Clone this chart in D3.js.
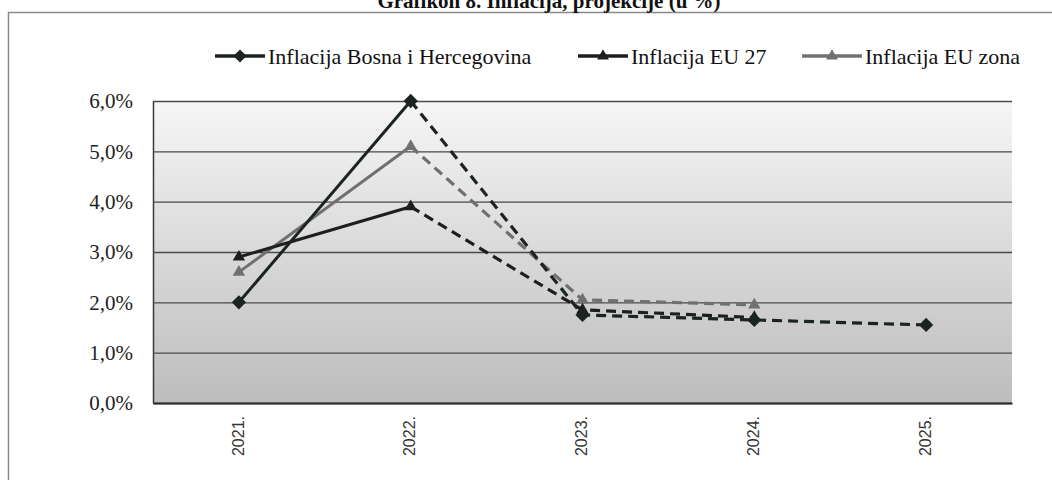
<!DOCTYPE html>
<html>
<head>
<meta charset="utf-8">
<script src="https://cdn.jsdelivr.net/npm/d3@7"></script>
<style>
  body { margin: 0; background: #fff; }
  svg { display: block; }
</style>
</head>
<body>
<svg id="chart" width="1052" height="480"></svg>
<script>
  const titleText = 'Grafikon 8. Inflacija, projekcije (u %)';

  const years = ['2021.', '2022.', '2023.', '2024.', '2025.'];
  const bihValues = [2.0, 6.0, 1.75, 1.65, 1.55];
  const eu27Values = [2.9, 3.9, 1.85, 1.7, null];
  const euZoneValues = [2.6, 5.1, 2.05, 1.95, null];
  const yTicks = [0, 1, 2, 3, 4, 5, 6];

  const series = [
    { name: 'Inflacija Bosna i Hercegovina', values: bihValues, color: '#1c2421', marker: 'diamond' },
    { name: 'Inflacija EU 27', values: eu27Values, color: '#1e1e1e', marker: 'triangle' },
    { name: 'Inflacija EU zona', values: euZoneValues, color: '#707070', marker: 'triangle' }
  ];

  const svg = d3.select('#chart');

  const margin = { top: 101, left: 153 };
  const innerWidth = 1012 - margin.left;
  const innerHeight = 403 - margin.top;

  // outer frame (top and left edges visible)
  svg.append('path')
      .attr('d', 'M8.5,480 V12.5 H1052')
      .attr('fill', 'none')
      .attr('stroke', '#8a8a8a')
      .attr('stroke-width', 1.5);

  svg.append('text')
      .attr('x', 549)
      .attr('y', 8)
      .attr('text-anchor', 'middle')
      .style('font-family', 'Liberation Serif, serif')
      .style('font-weight', 'bold')
      .style('font-size', '21px')
      .attr('fill', '#111')
      .text(titleText);

  const defs = svg.append('defs');
  const grad = defs.append('linearGradient')
      .attr('id', 'bg')
      .attr('x1', 0).attr('y1', 0).attr('x2', 0).attr('y2', 1);
  grad.append('stop').attr('offset', '0%').attr('stop-color', '#f6f6f6');
  grad.append('stop').attr('offset', '45%').attr('stop-color', '#dcdcdc');
  grad.append('stop').attr('offset', '100%').attr('stop-color', '#bdbdbd');

  const xScale = d3.scaleBand()
    .domain(years)
    .range([0, innerWidth])
    .padding(0);
  const xPos = d => xScale(d) + xScale.bandwidth() / 2;

  const yScale = d3.scaleLinear()
    .domain([0, 6])
    .range([innerHeight, 0]);

  const g = svg.append('g')
      .attr('transform', `translate(${margin.left},${margin.top})`);

  g.append('rect')
      .attr('width', innerWidth)
      .attr('height', innerHeight)
      .attr('fill', 'url(#bg)');

  const yAxis = d3.axisLeft(yScale)
    .tickValues(yTicks)
    .tickFormat(d => d3.format('.1f')(d).replace('.', ',') + '%')
    .tickSize(-innerWidth)
    .tickPadding(20);

  const yAxisG = g.append('g').call(yAxis);
  yAxisG.select('.domain')
      .attr('stroke', '#3a3a3a')
      .attr('stroke-width', 1.5)
      .attr('d', `M0.5,0V${innerHeight}`);
  yAxisG.selectAll('.tick line')
      .attr('stroke', '#4a4a4a')
      .attr('stroke-width', 1.3);
  yAxisG.selectAll('.tick text')
      .style('font-family', 'Liberation Serif, serif')
      .style('font-size', '21px')
      .attr('fill', '#222');

  const xAxis = d3.axisBottom(xScale).tickSize(0);
  const xAxisG = g.append('g')
      .attr('transform', `translate(0,${innerHeight})`)
      .call(xAxis);
  xAxisG.select('.domain')
      .attr('stroke', '#2a2a2a')
      .attr('stroke-width', 2);
  xAxisG.selectAll('.tick text')
      .style('font-family', 'Liberation Sans, Arial, sans-serif')
      .style('font-size', '16px')
      .attr('fill', '#333')
      .attr('text-anchor', 'end')
      .attr('transform', 'rotate(-90)')
      .attr('x', -13)
      .attr('y', -1)
      .attr('dy', '0.35em');

  const markerPath = (type, size) =>
    d3.symbol().type(type === 'diamond' ? d3.symbolDiamond2 : d3.symbolTriangle2).size(size)();

  const line = d3.line()
    .defined(d => d.v != null)
    .x(d => xPos(d.year))
    .y(d => yScale(d.v));

  // grey series first so the dark ones sit on top
  const drawOrder = [series[2], series[1], series[0]];
  drawOrder.forEach(s => {
    const pts = years.map((year, i) => ({ year, v: s.values[i] }));

    g.append('path')
        .datum(pts.slice(0, 2))
        .attr('fill', 'none')
        .attr('stroke', s.color)
        .attr('stroke-width', 3)
        .attr('d', line);

    g.append('path')
        .datum(pts.slice(1))
        .attr('fill', 'none')
        .attr('stroke', s.color)
        .attr('stroke-width', 3.2)
        .attr('stroke-dasharray', '10,6')
        .attr('d', line);

    g.selectAll(null)
      .data(pts.filter(d => d.v != null))
      .enter().append('path')
        .attr('transform', d => `translate(${xPos(d.year)},${yScale(d.v)})`)
        .attr('d', markerPath(s.marker, s.marker === 'diamond' ? 130 : 110))
        .attr('fill', s.color);
  });

  // legend
  const legendItems = [
    { s: series[0], x: 215, lineW: 50 },
    { s: series[1], x: 578, lineW: 50 },
    { s: series[2], x: 802, lineW: 60 }
  ];
  const legendY = 56;
  legendItems.forEach(item => {
    const lg = svg.append('g').attr('transform', `translate(${item.x},${legendY})`);
    lg.append('line')
        .attr('x1', 0).attr('x2', item.lineW)
        .attr('stroke', item.s.color)
        .attr('stroke-width', 3.5);
    lg.append('path')
        .attr('transform', `translate(${item.lineW / 2},0)`)
        .attr('d', markerPath(item.s.marker, item.s.marker === 'diamond' ? 110 : 100))
        .attr('fill', item.s.color);
    lg.append('text')
        .attr('x', item.lineW + 3)
        .attr('dy', '0.35em')
        .style('font-family', 'Liberation Serif, serif')
        .style('font-size', '22px')
        .attr('fill', '#111')
        .text(item.s.name);
  });
</script>
</body>
</html>
